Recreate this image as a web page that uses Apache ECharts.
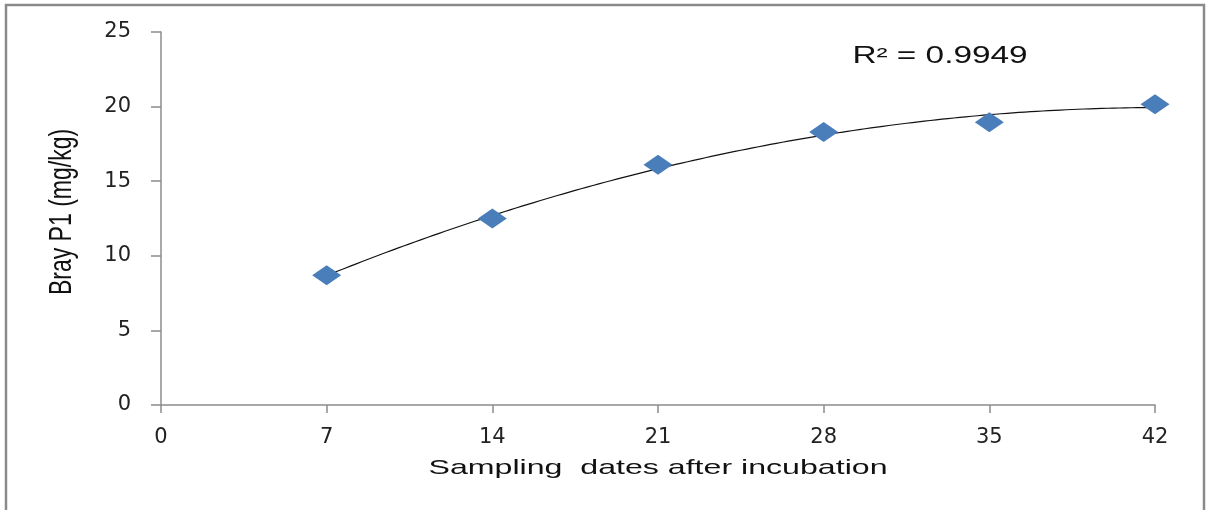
<!DOCTYPE html>
<html>
<head>
<meta charset="utf-8">
<script src="https://cdn.jsdelivr.net/npm/echarts@6/dist/echarts.min.js"></script>
<style>
  html, body { margin: 0; padding: 0; background: #fff; }
  #chart { width: 1208px; height: 510px; }
</style>
</head>
<body>
<div id="chart"></div>
<script>
// Sampling days after incubation and measured Bray P1 (mg/kg)
const days = [7, 14, 21, 28, 35, 42];
const brayP1 = [8.7, 12.5, 16.1, 18.3, 18.95, 20.15];
const xTicks = [0, 7, 14, 21, 28, 35, 42];
const yTicks = [0, 5, 10, 15, 20, 25];
const r2Label = 'R² = 0.9949';

// Second-order polynomial least-squares trendline through the measurements
function quadFit(xs, ys) {
  let s = [0, 0, 0, 0, 0], t = [0, 0, 0];
  for (let i = 0; i < xs.length; i++) {
    let p = 1;
    for (let k = 0; k < 5; k++) { s[k] += p; if (k < 3) t[k] += p * ys[i]; p *= xs[i]; }
  }
  const A = [[s[0], s[1], s[2], t[0]], [s[1], s[2], s[3], t[1]], [s[2], s[3], s[4], t[2]]];
  for (let c = 0; c < 3; c++) {
    for (let r = c + 1; r < 3; r++) {
      const f = A[r][c] / A[c][c];
      for (let k = c; k < 4; k++) A[r][k] -= f * A[c][k];
    }
  }
  const b = [0, 0, 0];
  for (let r = 2; r >= 0; r--) {
    let v = A[r][3];
    for (let k = r + 1; k < 3; k++) v -= A[r][k] * b[k];
    b[r] = v / A[r][r];
  }
  return b;
}
const coef = quadFit(days, brayP1);
const trend = [];
const x0 = days[0], x1 = days[days.length - 1];
for (let i = 0; i <= 140; i++) {
  const x = x0 + (x1 - x0) * i / 140;
  trend.push([x, coef[0] + coef[1] * x + coef[2] * x * x]);
}

const chart = echarts.init(document.getElementById('chart'));
const axisGray = '#8c8c8c';
chart.setOption({
  animation: false,
  backgroundColor: '#fff',
  grid: { left: 161, right: 53, top: 32, bottom: 105 },
  xAxis: {
    type: 'value', min: xTicks[0], max: xTicks[xTicks.length - 1], interval: 7,
    splitLine: { show: false },
    axisLine: { lineStyle: { color: axisGray, width: 1.5 } },
    axisTick: { show: true, length: 8, inside: false, lineStyle: { color: axisGray, width: 1.5 } },
    axisLabel: { color: '#222', fontFamily: 'DejaVu Sans', fontSize: 21, margin: 22 }
  },
  yAxis: {
    type: 'value', min: yTicks[0], max: yTicks[yTicks.length - 1], interval: 5,
    splitLine: { show: false },
    axisLine: { show: true, lineStyle: { color: axisGray, width: 1.5 } },
    axisTick: { show: true, length: 10, inside: false, lineStyle: { color: axisGray, width: 1.5 } },
    axisLabel: { color: '#222', fontFamily: 'DejaVu Sans', fontSize: 21, margin: 30 }
  },
  series: [
    {
      type: 'line', data: trend, showSymbol: false, symbol: 'none',
      lineStyle: { color: '#111', width: 1.2 }, z: 2, silent: true
    },
    {
      type: 'scatter', data: days.map((d, i) => [d, brayP1[i]]),
      symbol: 'diamond', symbolSize: [29, 20],
      itemStyle: { color: '#4a7ebb', opacity: 1 }, z: 3
    }
  ],
  graphic: [
    {
      type: 'rect', shape: { x: 6, y: 5, width: 1198, height: 520 },
      style: { fill: 'none', stroke: '#8a8a8a', lineWidth: 2.5 }, z: 0
    },
    {
      type: 'text', x: 940, y: 57, scaleX: 1.45,
      style: { text: r2Label, font: '23px "Liberation Sans", Arial, sans-serif', fill: '#111',
               textAlign: 'center', textVerticalAlign: 'middle' }
    },
    {
      type: 'text', x: 658, y: 468, scaleX: 1.53,
      style: { text: 'Sampling  dates after incubation', font: '21px "Liberation Sans", Arial, sans-serif',
               fill: '#111', textAlign: 'center', textVerticalAlign: 'middle' }
    },
    {
      type: 'text', x: 62, y: 212, rotation: Math.PI / 2, scaleY: 1.4,
      style: { text: 'Bray P1 (mg/kg)', font: '23px "Liberation Sans", Arial, sans-serif',
               fill: '#111', textAlign: 'center', textVerticalAlign: 'middle' }
    }
  ]
});
</script>
</body>
</html>
